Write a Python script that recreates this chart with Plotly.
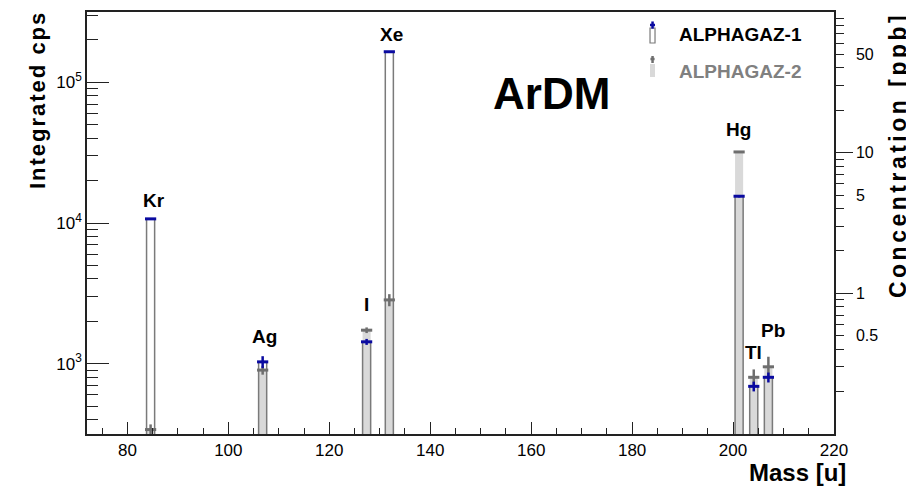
import plotly.graph_objects as go

# ---------------- data ----------------
elements = ["Kr", "Ag", "I", "Xe", "Hg", "Tl", "Pb"]
mass = [84.6, 106.8, 127.4, 131.9, 201.2, 204.1, 207.0]
ag1_cps = [10700, 1030, 1430, 165000, 15500, 690, 800]
ag1_err = [150, 100, 70, 1500, 300, 55, 65]
ag2_cps = [340, 900, 1730, 2840, 32000, 800, 950]
ag2_err = [30, 65, 80, 280, 300, 110, 170]

left_tickvals = [1e3, 1e4, 1e5]
left_ticktext = ["10<sup>3</sup>", "10<sup>4</sup>", "10<sup>5</sup>"]
right_tickvals = [0.5, 1, 5, 10, 50]
right_ticktext = ["0.5", "1", "5", "10", "50"]

# element label positions (x in mass units, y in paper fraction)
label_x = [85.2, 107.1, 127.3, 132.4, 201.1, 204.1, 208.0]
label_y = [0.5545, 0.2299, 0.308, 0.9455, 0.7204, 0.1943, 0.2464]

FONT = "Liberation Sans, Arial, Helvetica, sans-serif"
BLUE = "#0a0aa0"
GRAY_M = "#6e6e6e"
GRAY_FILL = "#d9d9d9"
OUTLINE = "#7a7a7a"

fig = go.Figure()

# ALPHAGAZ-2 filled bars
fig.add_trace(go.Bar(x=mass, y=ag2_cps, width=1.6,
                     marker=dict(color=GRAY_FILL, line=dict(width=0)),
                     showlegend=False, hoverinfo="skip"))
# ALPHAGAZ-1 hollow bars
fig.add_trace(go.Bar(x=mass, y=ag1_cps, width=1.6,
                     marker=dict(color="rgba(0,0,0,0)", line=dict(color=OUTLINE, width=1.5)),
                     showlegend=False, hoverinfo="skip"))
# markers with errors
fig.add_trace(go.Scatter(x=mass, y=ag2_cps, mode="markers",
                         marker=dict(symbol="line-ew", size=8, line=dict(color=GRAY_M, width=3)),
                         error_y=dict(type="data", array=ag2_err, color=GRAY_M, thickness=2.5, width=0),
                         showlegend=False, hoverinfo="skip"))
fig.add_trace(go.Scatter(x=mass, y=ag1_cps, mode="markers",
                         marker=dict(symbol="line-ew", size=8, line=dict(color=BLUE, width=3)),
                         error_y=dict(type="data", array=ag1_err, color=BLUE, thickness=2.5, width=0),
                         showlegend=False, hoverinfo="skip"))
# dummy traces to carry the right-hand axes
fig.add_trace(go.Scatter(x=[150], y=[1], yaxis="y2", mode="markers",
                         marker=dict(opacity=0), showlegend=False, hoverinfo="skip"))
fig.add_trace(go.Scatter(x=[150], y=[1], yaxis="y3", mode="markers",
                         marker=dict(opacity=0), showlegend=False, hoverinfo="skip"))

def minor_vals(lo_exp, hi_exp, lo, hi):
    vals = []
    for e in range(lo_exp, hi_exp + 1):
        for m in range(2, 10):
            v = m * 10 ** e
            if lo <= v <= hi:
                vals.append(v)
    return vals

left_minor = minor_vals(2, 5, 316, 316000)
right_minor = [v for v in minor_vals(-1, 1, 0.1, 100) if v not in right_tickvals]

# page body has an 8px margin: figure is sized/offset so the plot frame lands
# at the same pixels as the reference
fig.update_layout(
    width=906, height=479,
    margin=dict(l=79, r=80, t=4, b=53, autoexpand=False),
    paper_bgcolor="white", plot_bgcolor="white",
    barmode="overlay",
    font=dict(family=FONT, color="black"),
    xaxis=dict(range=[72, 220], tickmode="array", tickvals=[80, 100, 120, 140, 160, 180, 200, 220],
               ticks="inside", ticklen=12, tickwidth=1.2, tickcolor="#222",
               minor=dict(dtick=5, tick0=0, ticks="inside", ticklen=6, tickwidth=1.2, tickcolor="#222"),
               showline=True, linecolor="#222", linewidth=1.5, mirror=True,
               showgrid=False, zeroline=False, tickfont=dict(size=17), automargin=False),
    yaxis=dict(type="log", range=[2.5, 5.5], tickmode="array", tickvals=left_tickvals,
               ticktext=left_ticktext, ticks="inside", ticklen=22, tickwidth=1.2, tickcolor="#222",
               minor=dict(tickmode="array", tickvals=left_minor, ticks="inside", ticklen=11,
                          tickwidth=1.2, tickcolor="#222"),
               showline=True, linecolor="#222", linewidth=1.5, mirror=True,
               showgrid=False, zeroline=False, tickfont=dict(size=17), automargin=False),
    yaxis2=dict(type="log", range=[-1, 2], overlaying="y", side="right",
                tickmode="array", tickvals=right_tickvals, ticktext=right_ticktext,
                ticks="outside", ticklen=8, tickwidth=1.2, tickcolor="#222",
                minor=dict(tickmode="array", tickvals=right_minor, ticks="outside", ticklen=8,
                           tickwidth=1.2, tickcolor="#222"),
                ticklabelstandoff=9,
                showline=True, linecolor="#222", linewidth=1.5,
                showgrid=False, zeroline=False, tickfont=dict(size=16), automargin=False),
    yaxis3=dict(type="log", range=[-1, 2], overlaying="y", side="right",
                tickmode="array", tickvals=[1, 10], showticklabels=False,
                ticks="outside", ticklen=18, tickwidth=1.2, tickcolor="#222",
                showline=False, showgrid=False, zeroline=False, automargin=False),
)

annotations = []
for name, lx, ly in zip(elements, label_x, label_y):
    annotations.append(dict(x=lx, y=ly, xref="x", yref="paper", text="<b>%s</b>" % name,
                            showarrow=False, font=dict(size=19, color="black"),
                            xanchor="center", yanchor="middle"))

annotations += [
    dict(x=0.622, y=0.8057, xref="paper", yref="paper", text="<b>ArDM</b>", showarrow=False,
         font=dict(size=44, color="black"), xanchor="center", yanchor="middle"),
    dict(x=1.0187, y=-0.092, xref="paper", yref="paper", text="<b>Mass [u]</b>", showarrow=False,
         font=dict(size=24, color="black"), xanchor="right", yanchor="middle"),
    dict(x=-0.0669, y=1.007, xref="paper", yref="paper",
         text="<b><span style='letter-spacing:2px'>Integrated cps</span></b>", showarrow=False,
         textangle=-90, font=dict(size=22, color="black"), xanchor="center", yanchor="top"),
    dict(x=1.0857, y=1.0047, xref="paper", yref="paper",
         text="<b><span style='letter-spacing:3.5px'>Concentration [ppb]</span></b>", showarrow=False,
         textangle=-90, font=dict(size=23, color="black"), xanchor="center", yanchor="top"),
    dict(x=0.7898, y=0.9455, xref="paper", yref="paper", text="<b>ALPHAGAZ-1</b>", showarrow=False,
         font=dict(size=19, color="black"), xanchor="left", yanchor="middle"),
    dict(x=0.7898, y=0.8585, xref="paper", yref="paper", text="<b>ALPHAGAZ-2</b>", showarrow=False,
         font=dict(size=19, color="#808080"), xanchor="left", yanchor="middle"),
]
fig.update_layout(annotations=annotations)

shapes = [
    # ALPHAGAZ-1 legend symbol
    dict(type="rect", xref="paper", yref="paper", x0=0.7537, x1=0.7604, y0=0.9265, y1=0.9621,
         line=dict(color=OUTLINE, width=1.2), fillcolor="white"),
    dict(type="line", xref="paper", yref="paper", x0=0.7571, x1=0.7571, y0=0.9604, y1=0.9776,
         line=dict(color=BLUE, width=2.5)),
    dict(type="line", xref="paper", yref="paper", x0=0.7537, x1=0.7604, y0=0.9692, y1=0.9692,
         line=dict(color=BLUE, width=2.5)),
    # ALPHAGAZ-2 legend symbol
    dict(type="rect", xref="paper", yref="paper", x0=0.7537, x1=0.7604, y0=0.846, y1=0.8768,
         line=dict(width=0), fillcolor=GRAY_FILL),
    dict(type="line", xref="paper", yref="paper", x0=0.7571, x1=0.7571, y0=0.8791, y1=0.8957,
         line=dict(color=GRAY_M, width=2.5)),
    dict(type="line", xref="paper", yref="paper", x0=0.7543, x1=0.7598, y0=0.8886, y1=0.8886,
         line=dict(color=GRAY_M, width=2.5)),
]
fig.update_layout(shapes=shapes)

fig.write_html("out.html")
